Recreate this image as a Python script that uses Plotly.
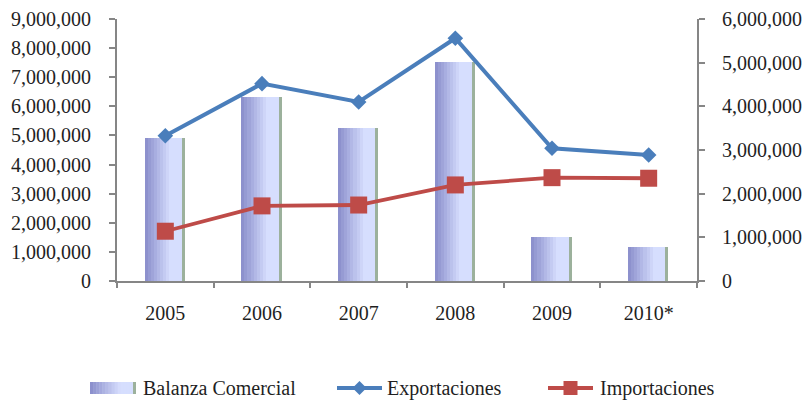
import plotly.graph_objects as go

# Trade data (values in US$)
years = ["2005", "2006", "2007", "2008", "2009", "2010*"]
exportaciones = [4990000, 6780000, 6150000, 8340000, 4560000, 4330000]
importaciones = [1710000, 2580000, 2610000, 3300000, 3550000, 3530000]
balanza = [3270000, 4220000, 3500000, 5010000, 1000000, 780000]

FONT = "Liberation Serif"
TXT = "#1f1f1f"
AXIS = "#868686"
BLUE = "#4a7ebb"
RED = "#be4b48"

W, H = 804, 402
L, R, T, B = 117, 107, 19, 121
PW, PH = W - L - R, H - T - B


def px(x):
    return (x - L) / PW


def py(y):
    return (H - B - y) / PH


def lerp(c1, c2, t):
    a = [int(c1[i:i + 2], 16) for i in (1, 3, 5)]
    b = [int(c2[i:i + 2], 16) for i in (1, 3, 5)]
    return "#" + "".join(f"{round(a[k] + (b[k] - a[k]) * t):02x}" for k in range(3))


# Horizontal gradient used for the Balanza Comercial columns
DARK, LIGHT, EDGE = "#888cca", "#d6defe", "#9cb19c"
N_SLICES = 12


def grad_color(t):
    return lerp(DARK, LIGHT, min(1.0, t / 0.7))


fig = go.Figure()

bar_w = 0.42
edge_w = 0.034
body_w = bar_w - edge_w
sw = body_w / N_SLICES
for i in range(N_SLICES):
    fig.add_trace(go.Bar(
        x=years, y=balanza, yaxis="y",
        width=sw * 1.02, offset=-bar_w / 2 - 0.005 + i * sw,
        marker=dict(color=grad_color((i + 0.5) / N_SLICES), line=dict(width=0)),
        name="Balanza Comercial", showlegend=False, hoverinfo="skip" if i else None,
    ))
fig.add_trace(go.Bar(
    x=years, y=balanza, yaxis="y",
    width=edge_w, offset=bar_w / 2 - 0.005 - edge_w,
    marker=dict(color=EDGE, line=dict(width=0)),
    showlegend=False, hoverinfo="skip",
))

fig.add_trace(go.Scatter(
    x=years, y=exportaciones, yaxis="y2", name="Exportaciones",
    mode="lines+markers", line=dict(color=BLUE, width=4),
    marker=dict(symbol="diamond", size=12, color=BLUE),
    showlegend=False,
))
fig.add_trace(go.Scatter(
    x=years, y=importaciones, yaxis="y2", name="Importaciones",
    mode="lines+markers", line=dict(color=RED, width=3.8),
    marker=dict(symbol="square", size=17, color=RED),
    showlegend=False,
))

tickfont = dict(family=FONT, size=20, color=TXT)

# Custom legend row
shapes = []
annotations = []
ly = 388
sx0, sx1 = 90, 136
nsw = 14
for i in range(nsw):
    x0 = sx0 + (sx1 - 3 - sx0) * i / nsw
    x1 = sx0 + (sx1 - 3 - sx0) * (i + 1) / nsw + 0.5
    shapes.append(dict(type="rect", xref="paper", yref="paper",
                       x0=px(x0), x1=px(x1), y0=py(ly + 6), y1=py(ly - 6),
                       fillcolor=grad_color((i + 0.5) / nsw), line=dict(width=0), layer="above"))
shapes.append(dict(type="rect", xref="paper", yref="paper",
                   x0=px(sx1 - 3), x1=px(sx1), y0=py(ly + 6), y1=py(ly - 6),
                   fillcolor=EDGE, line=dict(width=0), layer="above"))

for (x0, x1, col, lw, path) in [
    (337, 382, BLUE, 4, "M0,7 L7,0 L0,-7 L-7,0 Z"),
    (548, 593, RED, 3.8, "M-7,-7 L7,-7 L7,7 L-7,7 Z"),
]:
    shapes.append(dict(type="line", xref="paper", yref="paper",
                       x0=px(x0), x1=px(x1), y0=py(ly), y1=py(ly),
                       line=dict(color=col, width=lw), layer="above"))
    shapes.append(dict(type="path", xref="paper", yref="paper",
                       xsizemode="pixel", ysizemode="pixel",
                       xanchor=px((x0 + x1) / 2), yanchor=py(ly),
                       path=path, fillcolor=col, line=dict(width=0), layer="above"))

for x, label in [(141, "Balanza Comercial"), (385, "Exportaciones"), (598, "Importaciones")]:
    annotations.append(dict(text=label, xref="paper", yref="paper", x=px(x), y=py(ly),
                            xanchor="left", yanchor="middle", showarrow=False,
                            font=dict(family=FONT, size=20, color=TXT)))

fig.update_layout(
    width=W, height=H,
    margin=dict(l=L, r=R, t=T, b=B),
    paper_bgcolor="white", plot_bgcolor="white",
    barmode="overlay", bargap=0,
    showlegend=False,
    xaxis=dict(
        type="category", range=[-0.5, 5.5], automargin=False,
        showline=True, linecolor=AXIS, linewidth=2,
        ticks="outside", ticklen=5, tickwidth=2, tickcolor=AXIS,
        tickson="boundaries", showgrid=False,
        tickfont=tickfont, ticklabelstandoff=13,
    ),
    yaxis=dict(
        side="right", range=[0, 6000000], dtick=1000000, tickformat=",d",
        automargin=False,
        showline=True, linecolor=AXIS, linewidth=2,
        ticks="outside", ticklen=6, tickwidth=2, tickcolor=AXIS,
        showgrid=False, zeroline=False, tickfont=tickfont, ticklabelstandoff=13,
    ),
    yaxis2=dict(
        side="left", overlaying="y", range=[0, 9000000], dtick=1000000, tickformat=",d",
        automargin=False,
        showline=True, linecolor=AXIS, linewidth=2,
        ticks="outside", ticklen=6, tickwidth=2, tickcolor=AXIS,
        showgrid=False, zeroline=False, tickfont=tickfont, ticklabelstandoff=14,
    ),
    shapes=shapes,
    annotations=annotations,
)

fig.write_html("out.html")
